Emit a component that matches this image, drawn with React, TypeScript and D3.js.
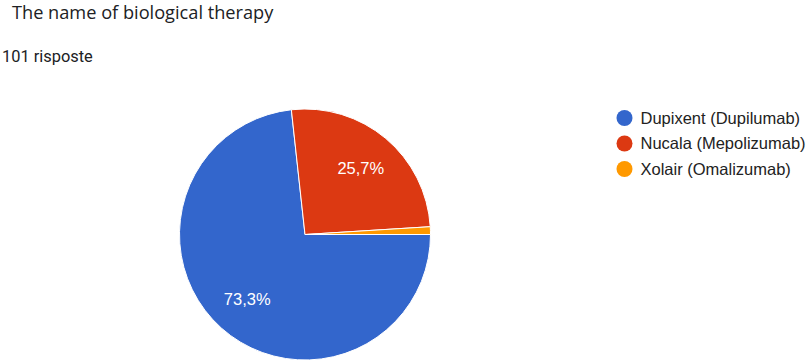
import React from "react";
import * as d3 from "d3";

const title = "The name of biological therapy";
const subtitle = "101 risposte";
const labels = ["Dupixent (Dupilumab)", "Nucala (Mepolizumab)", "Xolair (Omalizumab)"];
const counts = [74, 26, 1];
const percentLabels = ["73,3%", "25,7%", ""];
const colors = ["#3366cc", "#dc3912", "#ff9900"];

const App = () => {
  const W = 810;
  const H = 363;
  const cx = 305;
  const cy = 234.5;
  const radius = 125.5;

  const data = labels.map((name, i) => ({ name, value: counts[i], label: percentLabels[i], color: colors[i] }));

  // first slice starts at 3 o'clock, clockwise
  const pie = d3
    .pie<any>()
    .sort(null)
    .value((d) => d.value)
    .startAngle(Math.PI / 2)
    .endAngle(Math.PI / 2 + 2 * Math.PI);
  const arcs = pie(data);

  const arc = d3.arc<any>().innerRadius(0).outerRadius(radius);
  const labelArc = d3.arc<any>().innerRadius(radius * 0.69).outerRadius(radius * 0.69);

  const legendY = d3.scalePoint<string>().domain(labels).range([118, 169]);

  return (
    <svg
      width={W}
      height={H}
      style={{ position: "absolute", left: 0, top: 0, background: "#fff" }}
    >
      <text x={12} y={19} fontFamily="'Open Sans', sans-serif" fontSize={18.2} fill="#202124">
        {title}
      </text>
      <text x={2} y={62} fontFamily="Roboto, sans-serif" fontSize={16.4} fill="#202124">
        {subtitle}
      </text>

      {/* Pie */}
      <g transform={`translate(${cx}, ${cy})`}>
        {arcs.map((a, i) => (
          <path key={i} d={arc(a) || ""} fill={a.data.color} stroke="#fff" strokeWidth={1} />
        ))}
        {arcs.map((a, i) => {
          const [lx, ly] = labelArc.centroid(a);
          return (
            <text
              key={"l" + i}
              x={lx}
              y={ly}
              dy="0.35em"
              textAnchor="middle"
              fontFamily="Arial, 'Liberation Sans', sans-serif"
              fontSize={16.5}
              fill="#fff"
            >
              {a.data.label}
            </text>
          );
        })}
      </g>

      {/* Legend */}
      <g>
        {data.map((d) => (
          <g key={d.name} transform={`translate(624.5, ${legendY(d.name)})`}>
            <circle cx={0} cy={0} r={8} fill={d.color} />
            <text x={16} y={0} dy="0.36em" fontFamily="Arial, 'Liberation Sans', sans-serif" fontSize={16.5} fill="#222">
              {d.name}
            </text>
          </g>
        ))}
      </g>
    </svg>
  );
};

export default App;
